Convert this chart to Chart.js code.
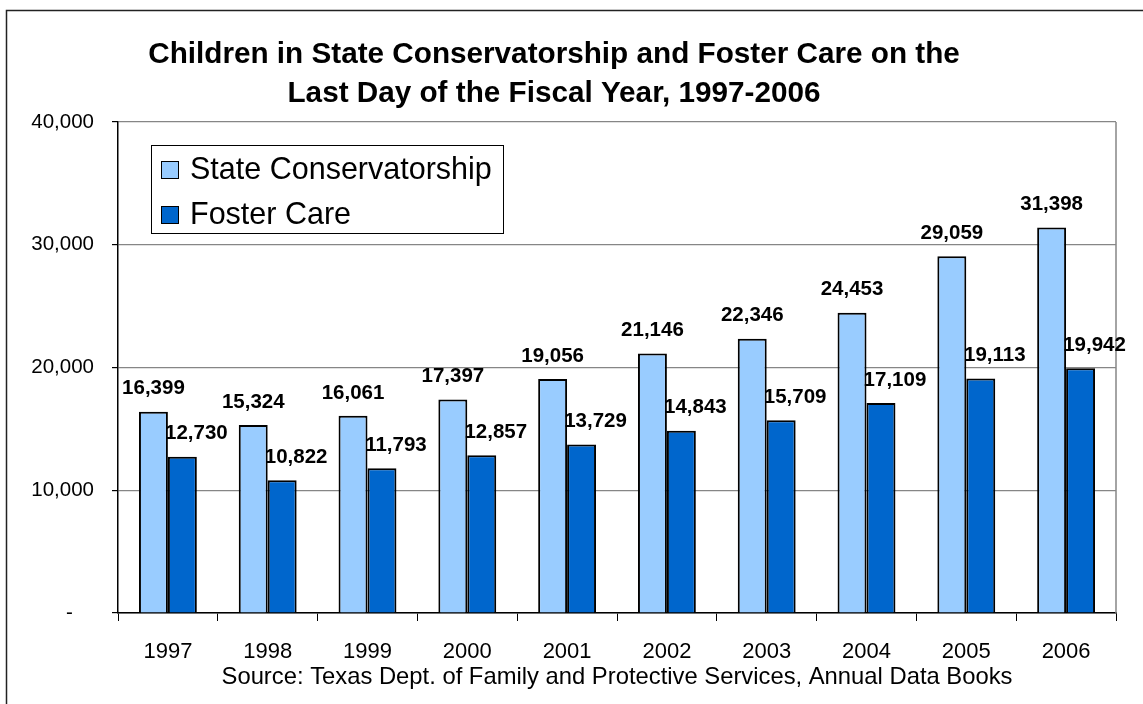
<!DOCTYPE html>
<html>
<head>
<meta charset="utf-8">
<title>Children in State Conservatorship and Foster Care</title>
<script src="https://cdn.jsdelivr.net/npm/chart.js@4.4.1/dist/chart.umd.min.js"></script>
<style>
  html, body { margin: 0; padding: 0; background: #fff; }
  canvas { display: block; }
</style>
</head>
<body>
<canvas id="chart" width="1143" height="704"></canvas>
<script>
// Fiscal years shown on the category axis
const years = ['1997', '1998', '1999', '2000', '2001', '2002', '2003', '2004', '2005', '2006'];
// Children in state conservatorship on the last day of each fiscal year
const conservatorship = [16399, 15324, 16061, 17397, 19056, 21146, 22346, 24453, 29059, 31398];
// Children in foster care on the last day of each fiscal year
const fosterCare = [12730, 10822, 11793, 12857, 13729, 14843, 15709, 17109, 19113, 19942];
// Chart texts
const titleLines = ['Children in State Conservatorship and Foster Care on the', 'Last Day of the Fiscal Year, 1997-2006'];
const sourceNote = 'Source: Texas Dept. of Family and Protective Services, Annual Data Books';
const seriesNames = ['State Conservatorship', 'Foster Care'];

const FONT = "'Liberation Sans', Arial, Helvetica, sans-serif";

const fmt = v => v.toLocaleString('en-US');

// White page with the outer frame
const framePlugin = {
  id: 'frame',
  beforeDraw(chart) {
    const ctx = chart.ctx;
    ctx.save();
    ctx.fillStyle = '#fff';
    ctx.fillRect(0, 0, chart.width, chart.height);
    ctx.strokeStyle = '#222';
    ctx.lineWidth = 1.5;
    ctx.strokeRect(6.5, 10.5, chart.width + 20, chart.height + 20);
    ctx.restore();
  }
};

// Right edge of the plot area
const plotEdgePlugin = {
  id: 'plotEdge',
  beforeDatasetsDraw(chart) {
    const { ctx, chartArea: a } = chart;
    ctx.save();
    ctx.strokeStyle = '#868686';
    ctx.lineWidth = 1.5;
    ctx.beginPath();
    ctx.moveTo(a.right, a.top);
    ctx.lineTo(a.right, a.bottom);
    ctx.stroke();
    ctx.restore();
  }
};

// Two-line bold title
const titlePlugin = {
  id: 'twoLineTitle',
  afterDraw(chart) {
    const ctx = chart.ctx;
    ctx.save();
    ctx.fillStyle = '#000';
    ctx.font = 'bold 29.7px ' + FONT;
    ctx.textAlign = 'center';
    ctx.textBaseline = 'alphabetic';
    ctx.fillText(titleLines[0], 554, 63);
    ctx.fillText(titleLines[1], 554, 102);
    ctx.restore();
  }
};

// Boxed legend inside the plot area
const boxLegendPlugin = {
  id: 'boxLegend',
  afterDraw(chart) {
    const ctx = chart.ctx;
    ctx.save();
    ctx.fillStyle = '#fff';
    ctx.fillRect(151, 145, 352, 88);
    ctx.strokeStyle = '#000';
    ctx.lineWidth = 1;
    ctx.strokeRect(151.5, 145.5, 352, 88);
    ctx.font = '30.5px ' + FONT;
    ctx.textBaseline = 'middle';
    ctx.textAlign = 'left';
    const rows = [170, 215];
    chart.data.datasets.forEach((ds, i) => {
      const cy = rows[i];
      ctx.fillStyle = ds.backgroundColor;
      ctx.fillRect(161, cy - 9, 18, 18);
      ctx.strokeStyle = '#000';
      ctx.lineWidth = 1;
      ctx.strokeRect(161.5, cy - 8.5, 17, 17);
      ctx.fillStyle = '#000';
      ctx.fillText(ds.label, 190, cy + 1);
    });
    ctx.restore();
  }
};

// Value labels above each bar
const valueLabelPlugin = {
  id: 'valueLabels',
  afterDatasetsDraw(chart) {
    const ctx = chart.ctx;
    ctx.save();
    ctx.font = 'bold 20.5px ' + FONT;
    ctx.fillStyle = '#000';
    ctx.textAlign = 'center';
    ctx.textBaseline = 'middle';
    chart.data.datasets.forEach((ds, di) => {
      const meta = chart.getDatasetMeta(di);
      meta.data.forEach((bar, i) => {
        const dx = di === 1 ? 14 : 0;
        ctx.fillText(fmt(ds.data[i]), bar.x + dx, bar.y - 23);
      });
    });
    ctx.restore();
  }
};

new Chart(document.getElementById('chart'), {
  type: 'bar',
  data: {
    labels: years,
    datasets: [
      {
        label: seriesNames[0],
        data: conservatorship,
        backgroundColor: '#99CCFF',
        borderColor: '#000',
        borderWidth: 2,
        categoryPercentage: 0.58,
        barPercentage: 1.0
      },
      {
        label: seriesNames[1],
        data: fosterCare,
        backgroundColor: '#0066CC',
        borderColor: '#000',
        borderWidth: 2,
        categoryPercentage: 0.58,
        barPercentage: 1.0
      }
    ]
  },
  options: {
    responsive: false,
    devicePixelRatio: 1,
    animation: false,
    layout: { padding: { left: 0, right: 27, top: 122, bottom: 0 } },
    plugins: {
      legend: { display: false },
      title: { display: false },
      tooltip: { enabled: false }
    },
    scales: {
      x: {
        grid: {
          display: true,
          drawOnChartArea: false,
          offset: true,
          tickLength: 8,
          tickColor: '#000',
          tickWidth: 1
        },
        border: { color: '#000', width: 1.5 },
        ticks: {
          color: '#000',
          font: { family: FONT, size: 22 },
          padding: 18,
          maxRotation: 0
        },
        title: {
          display: true,
          text: sourceNote,
          color: '#000',
          font: { family: FONT, size: 23.8 },
          padding: { top: 0, bottom: 12 }
        },
        afterFit(scale) { scale.height = 91; }
      },
      y: {
        min: 0,
        max: 40000,
        grid: {
          color: '#868686',
          lineWidth: 1.2,
          tickColor: '#000',
          tickLength: 6
        },
        border: { color: '#000', width: 1.5 },
        ticks: {
          stepSize: 10000,
          color: '#000',
          font: { family: FONT, size: 20.5 },
          padding: 18,
          callback: v => (v === 0 ? '-   \u2009' : fmt(v))
        },
        afterFit(scale) { scale.width = 118; }
      }
    }
  },
  plugins: [framePlugin, plotEdgePlugin, valueLabelPlugin, boxLegendPlugin, titlePlugin]
});
</script>
</body>
</html>
